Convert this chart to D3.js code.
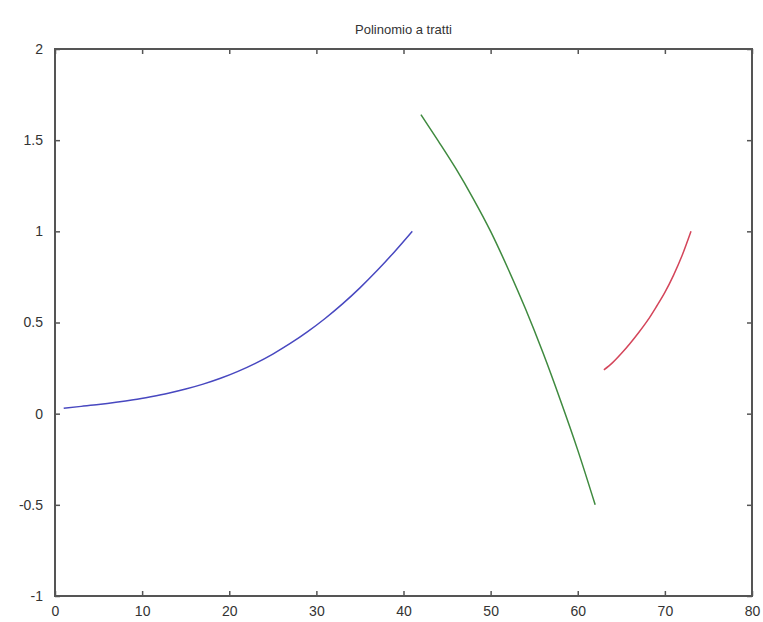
<!DOCTYPE html>
<html>
<head>
<meta charset="utf-8">
<script src="https://cdn.jsdelivr.net/npm/d3@7"></script>
<style>
  body { margin: 0; background: #fff; }
  text { font-family: "Liberation Sans", Arial, sans-serif; fill: #333; }
</style>
</head>
<body>
<script>
// piecewise pieces, values
var blueX = [1, 3, 5, 7, 9, 11, 13, 15, 17, 19, 21, 23, 25, 27, 29, 31, 33, 35, 37, 39, 41];
var blueY = [0.03, 0.04, 0.05, 0.062, 0.076, 0.093, 0.112, 0.135, 0.162, 0.194, 0.232, 0.276, 0.327, 0.385, 0.45, 0.522, 0.602, 0.69, 0.786, 0.89, 1.0];

var greenX = [42, 44, 46, 48, 50, 52, 54, 56, 58, 60, 62];
var greenY = [1.64, 1.495, 1.345, 1.18, 1.0, 0.795, 0.575, 0.335, 0.075, -0.20, -0.50];

var redX = [63, 64, 65, 66, 67, 68, 69, 70, 71, 72, 73];
var redY = [0.24, 0.28, 0.33, 0.385, 0.445, 0.51, 0.585, 0.665, 0.76, 0.87, 1.0];

var xTicks = [0, 10, 20, 30, 40, 50, 60, 70, 80];
var yTicks = [-1, -0.5, 0, 0.5, 1, 1.5, 2];

var margin = {top: 49, right: 11, bottom: 26, left: 55},
    width = 763 - margin.left - margin.right,
    height = 622 - margin.top - margin.bottom;

var svg = d3.select("body").append("svg")
    .attr("width", 763)
    .attr("height", 622);

var g = svg.append("g")
    .attr("transform", "translate(" + margin.left + "," + margin.top + ")");

var x = d3.scaleLinear().domain([0, 80]).range([0, width]);
var y = d3.scaleLinear().domain([-1, 2]).range([height, 0]);

// title
svg.append("text")
    .attr("x", margin.left + width / 2)
    .attr("y", 34)
    .attr("text-anchor", "middle")
    .style("font-size", "13px")
    .text("Polinomio a tratti");

// axes, matlab style: ticks point inward, on all four sides
function styleAxis(sel) {
  sel.select(".domain").remove();
  sel.selectAll(".tick line").attr("stroke", "#555").attr("stroke-width", 1.5);
  sel.selectAll(".tick text").style("font-size", "14px").attr("fill", "#333");
}

g.append("g")
    .attr("transform", "translate(0," + height + ")")
    .call(d3.axisBottom(x).tickValues(xTicks).tickSize(-5).tickPadding(10).tickFormat(d3.format("d")))
    .call(styleAxis);

g.append("g")
    .call(d3.axisTop(x).tickValues(xTicks).tickSize(-5).tickFormat(""))
    .call(styleAxis);

g.append("g")
    .call(d3.axisLeft(y).tickValues(yTicks).tickSize(-5).tickPadding(12).tickFormat(function(d) { return String(d); }))
    .call(styleAxis);

g.append("g")
    .attr("transform", "translate(" + width + ",0)")
    .call(d3.axisRight(y).tickValues(yTicks).tickSize(-5).tickFormat(""))
    .call(styleAxis);

// frame
g.append("rect")
    .attr("width", width)
    .attr("height", height)
    .attr("fill", "none")
    .attr("stroke", "#555")
    .attr("stroke-width", 2);

var line = d3.line()
    .x(function(d) { return x(d[0]); })
    .y(function(d) { return y(d[1]); })
    .curve(d3.curveMonotoneX);

var pieces = [
  {xs: blueX, ys: blueY, color: "#4848c0"},
  {xs: greenX, ys: greenY, color: "#3f8a3f"},
  {xs: redX, ys: redY, color: "#d4455a"}
];

pieces.forEach(function(p) {
  g.append("path")
      .datum(d3.zip(p.xs, p.ys))
      .attr("fill", "none")
      .attr("stroke", p.color)
      .attr("stroke-width", 1.5)
      .attr("d", line);
});
</script>
</body>
</html>
